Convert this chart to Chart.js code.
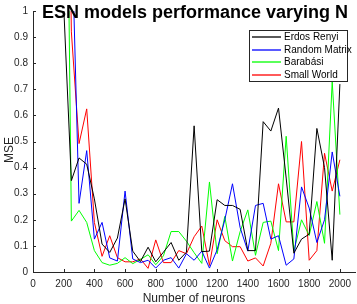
<!DOCTYPE html>
<html>
<head>
<meta charset="utf-8">
<script src="https://cdn.jsdelivr.net/npm/chart.js"></script>
<style>
  body { margin: 0; background: #fff; }
  canvas { display: block; }
</style>
</head>
<body>
<canvas id="chart" width="357" height="304"></canvas>
<script>
// network size (number of neurons)
const neurons = [200, 250, 300, 350, 400, 450, 500, 550, 600, 650, 700, 750, 800, 850, 900, 950,
    1000, 1050, 1100, 1150, 1200, 1250, 1300, 1350, 1400, 1450, 1500, 1550, 1600, 1650, 1700,
    1750, 1800, 1850, 1900, 1950, 2000];

// MSE for each topology
const erdosRenyi = [1.02, 0.35, 0.437, 0.413, 0.28, 0.107, 0.075, 0.13, 0.28, 0.08, 0.04, 0.095,
    0.039, 0.076, 0.113, 0.045, 0.076, 0.56, 0.078, 0.08, 0.277, 0.255, 0.255, 0.24, 0.082, 0.082,
    0.576, 0.54, 0.628, 0.36, 0.072, 0.126, 0.145, 0.55, 0.4, 0.045, 0.72];
const randomMatrix = [3, 1.36, 0.263, 0.465, 0.126, 0.19, 0.054, 0.042, 0.31, 0.05, 0.036, 0.045,
    0.015, 0.045, 0.055, 0.015, 0.07, 0.045, 0.08, 0.015, 0.085, 0.2, 0.338, 0.17, 0.08, 0.255,
    0.263, 0.126, 0.139, 0.026, 0.05, 0.326, 0.245, 0.113, 0.2, 0.46, 0.29];
const barabasi = [2.8, 0.195, 0.236, 0.19, 0.082, 0.036, 0.026, 0.033, 0.055, 0.032, 0.048, 0.066,
    0.028, 0.062, 0.155, 0.155, 0.118, 0.074, 0.033, 0.345, 0.07, 0.213, 0.042, 0.155, 0.238, 0.064,
    0.19, 0.195, 0.082, 0.52, 0.08, 0.2, 0.14, 0.27, 0.11, 0.73, 0.22];
const smallWorld = [3, 0.92, 0.492, 0.625, 0.19, 0.06, 0.139, 0.055, 0.039, 0.039, 0.05, 0.014,
    0.123, 0.036, 0.036, 0.082, 0.07, 0.135, 0.176, 0.025, 0.2, 0.12, 0.097, 0.097, 0.042, 0.054,
    0.023, 0.11, 0.338, 0.192, 0.192, 0.5, 0.045, 0.082, 0.455, 0.31, 0.43];

const seriesNames = ['Erdos Renyi', 'Random Matrix', 'Barabási', 'Small World'];
const seriesColors = ['rgb(0, 0, 0)', 'rgb(0, 0, 255)', 'rgb(0, 255, 0)', 'rgb(255, 0, 0)'];

const xTicks = [0, 200, 400, 600, 800, 1000, 1200, 1400, 1600, 1800, 2000];
const yTicks = [0, 0.1, 0.2, 0.3, 0.4, 0.5, 0.6, 0.7, 0.8, 0.9, 1];

const FONT = '"Liberation Sans", Arial, sans-serif';
const INK = '#262626';

function series(i, ys) {
    return {
        label: seriesNames[i],
        data: neurons.map((n, k) => ({ x: n, y: ys[k] })),
        borderColor: seriesColors[i],
        backgroundColor: seriesColors[i],
        borderWidth: 1,
        pointRadius: 0,
        tension: 0,
    };
}

// title, axis labels, inward ticks and the boxed legend
const decorations = {
    id: 'decorations',
    afterDraw(chart) {
        const ctx = chart.ctx;
        const xs = chart.scales.x, ys = chart.scales.y;
        ctx.save();

        // inward tick marks
        ctx.strokeStyle = INK;
        ctx.lineWidth = 1;
        ctx.beginPath();
        xTicks.forEach(v => {
            const px = Math.round(xs.getPixelForValue(v)) + 0.5;
            ctx.moveTo(px, ys.bottom);
            ctx.lineTo(px, ys.bottom - 3);
        });
        yTicks.forEach(v => {
            const py = Math.round(ys.getPixelForValue(v)) + 0.5;
            ctx.moveTo(xs.left, py);
            ctx.lineTo(xs.left + 3, py);
        });
        ctx.stroke();

        // axis titles
        ctx.fillStyle = INK;
        ctx.font = '12px ' + FONT;
        ctx.textAlign = 'center';
        ctx.textBaseline = 'alphabetic';
        ctx.fillText('Number of neurons', 194, 302);
        ctx.save();
        ctx.translate(13, 150);
        ctx.rotate(-Math.PI / 2);
        ctx.fillText('MSE', 0, 0);
        ctx.restore();

        // title
        ctx.fillStyle = '#000';
        ctx.font = 'bold 18px ' + FONT;
        ctx.fillText('ESN models performance varying N', 195, 18);

        // legend
        const bx = 249.5, by = 30.5, bw = 98, bh = 51;
        ctx.fillStyle = '#fff';
        ctx.fillRect(bx, by, bw, bh);
        ctx.strokeStyle = INK;
        ctx.strokeRect(bx, by, bw, bh);
        ctx.font = '10px ' + FONT;
        ctx.textAlign = 'left';
        ctx.textBaseline = 'middle';
        ctx.lineWidth = 1.3;
        for (let i = 0; i < seriesNames.length; i++) {
            const y = Math.round(37 + i * 12.5);
            ctx.strokeStyle = seriesColors[i];
            ctx.beginPath();
            ctx.moveTo(252, y);
            ctx.lineTo(281, y);
            ctx.stroke();
            ctx.fillStyle = '#000';
            ctx.fillText(seriesNames[i], 284, y + 0.5);
        }
        ctx.restore();
    }
};

new Chart(document.getElementById('chart'), {
    type: 'line',
    data: {
        datasets: [
            series(0, erdosRenyi),
            series(1, randomMatrix),
            series(2, barabasi),
            series(3, smallWorld),
        ]
    },
    options: {
        responsive: false,
        animation: false,
        devicePixelRatio: 1,
        layout: { padding: { top: 5, right: 0, left: 0, bottom: 0 } },
        plugins: {
            legend: { display: false },
            title: { display: false },
            tooltip: { enabled: false },
        },
        scales: {
            x: {
                type: 'linear',
                min: 0,
                max: 2100,
                grid: { display: false, drawTicks: false },
                border: { display: true, color: INK, width: 1 },
                ticks: {
                    stepSize: 200,
                    includeBounds: false,
                    autoSkip: false,
                    maxRotation: 0,
                    padding: 6,
                    color: INK,
                    font: { family: FONT, size: 10 },
                    callback: v => String(v),
                },
                afterFit(scale) { scale.height = 32; },
            },
            y: {
                min: 0,
                max: 1,
                grid: { display: false, drawTicks: false },
                border: { display: true, color: INK, width: 1 },
                ticks: {
                    stepSize: 0.1,
                    padding: 5,
                    color: INK,
                    font: { family: FONT, size: 10 },
                    callback: v => String(+v.toFixed(1)),
                },
                afterFit(scale) { scale.width = 33; },
            }
        }
    },
    plugins: [decorations]
});
</script>
</body>
</html>
